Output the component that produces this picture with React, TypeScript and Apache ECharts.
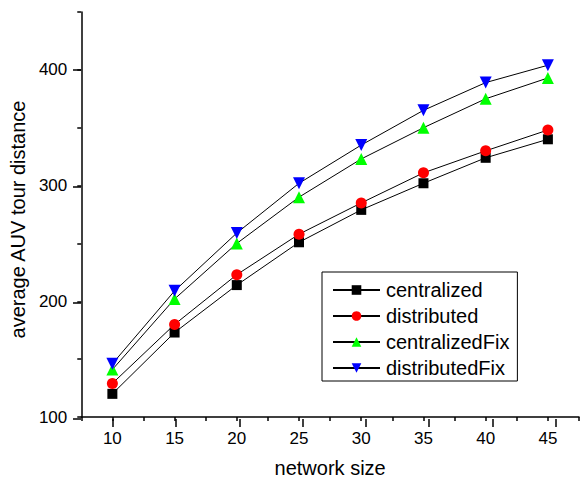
import React, { useEffect, useRef } from "react";
import * as echarts from "echarts";

const networkSize = [10, 15, 20, 25, 30, 35, 40, 45];
const centralized = [120, 173, 214, 251, 279, 302, 324, 340];
const distributed = [129, 180, 223, 258, 285, 311, 330, 348];
const centralizedFix = [141, 202, 250, 290, 323, 350, 375, 393];
const distributedFix = [146, 209, 259, 302, 335, 365, 389, 404];
const seriesNames = ["centralized", "distributed", "centralizedFix", "distributedFix"];

const FONT = "'Liberation Sans', Arial, sans-serif";

export default function App() {
  const ref = useRef<HTMLDivElement>(null);
  useEffect(() => {
    document.body.style.margin = "0";
    if (!ref.current) return;
    const chart = echarts.init(ref.current, null, { renderer: "svg" });
    const pair = (arr: number[]) => networkSize.map((x, i) => [x, arr[i]]);
    const L = 81, T = 12, W = 506, H = 407;
    const hiddenAxis = { show: false };
    const mk = (name: string, data: number[], symbol: string, color: string, size: number, rotate = 0) => ({
      name,
      type: "line",
      xAxisIndex: 0,
      yAxisIndex: 0,
      data: pair(data),
      symbol,
      symbolSize: size,
      symbolRotate: rotate,
      showAllSymbol: true,
      lineStyle: { color: "#000", width: 1 },
      itemStyle: { color, borderWidth: 0 },
      emphasis: { disabled: true },
    });
    chart.setOption({
      animation: false,
      textStyle: { fontFamily: FONT },
      grid: [
        { left: L, top: T, width: W, height: H },
        { left: L, top: 70, width: W, height: 349 },
        { left: 113, top: T, width: 442.7, height: H },
      ],
      xAxis: [
        {
          gridIndex: 0,
          type: "value",
          min: 7.5,
          max: 47.5,
          interval: 2.5,
          name: "network size",
          nameLocation: "middle",
          nameGap: 41,
          nameTextStyle: { fontSize: 20, color: "#000", fontFamily: FONT },
          axisLine: { lineStyle: { color: "#000", width: 1.5 } },
          axisTick: { length: 4, lineStyle: { color: "#000", width: 1.5 } },
          axisLabel: {
            fontSize: 17,
            color: "#000",
            margin: 13,
            fontFamily: FONT,
            formatter: (v: number) => (v % 5 === 0 && v >= 10 && v <= 45 ? String(v) : ""),
          },
          splitLine: { show: false },
        },
        { gridIndex: 1, type: "value", min: 7.5, max: 47.5, ...hiddenAxis },
        {
          gridIndex: 2,
          type: "value",
          min: 10,
          max: 45,
          interval: 5,
          axisLine: { show: false },
          axisTick: { length: 8, lineStyle: { color: "#000", width: 1.5 } },
          axisLabel: { show: false },
          splitLine: { show: false },
        },
      ],
      yAxis: [
        {
          gridIndex: 0,
          type: "value",
          min: 100,
          max: 450,
          interval: 50,
          name: "average AUV tour distance",
          nameLocation: "middle",
          nameGap: 42,
          nameTextStyle: { fontSize: 20, color: "#000", fontFamily: FONT, padding: [0, 10, 0, 0] },
          axisLine: { show: true, lineStyle: { color: "#000", width: 1.5 } },
          axisTick: { show: true, length: 4, lineStyle: { color: "#000", width: 1.5 } },
          axisLabel: {
            fontSize: 17,
            color: "#000",
            margin: 14,
            fontFamily: FONT,
            formatter: (v: number) => (v % 100 === 0 && v <= 400 ? String(v) : ""),
          },
          splitLine: { show: false },
        },
        {
          gridIndex: 1,
          type: "value",
          min: 100,
          max: 400,
          interval: 100,
          axisLine: { show: false },
          axisTick: { show: true, length: 8, lineStyle: { color: "#000", width: 1.5 } },
          axisLabel: { show: false },
          splitLine: { show: false },
        },
        { gridIndex: 2, type: "value", min: 100, max: 450, ...hiddenAxis },
      ],
      legend: {
        data: seriesNames,
        orient: "vertical",
        left: 322,
        top: 272,
        width: 199,
        padding: [8, 8, 3, 10],
        itemGap: 6,
        itemWidth: 47,
        itemHeight: 12,
        borderColor: "#000",
        borderWidth: 1,
        borderRadius: 0,
        textStyle: { fontSize: 20, color: "#000", fontFamily: FONT, padding: [0, 0, 0, 1] },
        selectedMode: false,
      },
      series: [
        mk(seriesNames[0], centralized, "rect", "#000000", 10),
        mk(seriesNames[1], distributed, "circle", "#ff0000", 11),
        mk(seriesNames[2], centralizedFix, "triangle", "#00ff00", 12),
        mk(seriesNames[3], distributedFix, "triangle", "#0000ff", 12, 180),
      ],
    });
    return () => chart.dispose();
  }, []);
  return <div ref={ref} style={{ position: "fixed", left: 0, top: 0, width: 582, height: 483, background: "#fff" }} />;
}
